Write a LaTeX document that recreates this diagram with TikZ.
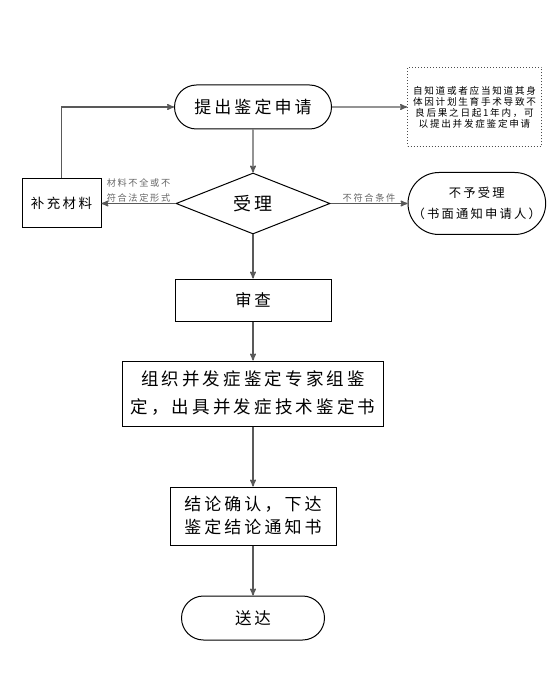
\documentclass[tikz,border=0pt]{standalone}
\usepackage{fontspec}
\setmainfont{Noto Sans CJK SC}[LetterSpace=18]
\usetikzlibrary{shapes,arrows,positioning}
\tikzstyle{terminal}=[rounded rectangle,draw=black,line width=1pt,inner sep=0pt]
\tikzstyle{process}=[rectangle,draw=black,line width=1pt,inner sep=0pt]
\tikzstyle{decision}=[diamond,draw=black,line width=1pt,inner sep=0pt]
\tikzstyle{note}=[rectangle,draw=black!70,dotted,line width=1pt,inner sep=0pt]
\tikzstyle{coef}=[->,>=stealth',line width=1.4pt,draw=black!65]
\tikzstyle{cond}=[inner sep=1pt,align=center,text=black!60,font=\fontsize{9.2}{15}\selectfont]

\begin{document}
\begin{tikzpicture}[x=1pt,y=1pt]
    \useasboundingbox (0,0) rectangle (551,-684);

    % Knoten
    \node[terminal, minimum width=157pt, minimum height=44pt, font=\fontsize{17}{20}\selectfont] (antrag) at (253,-107) {提出鉴定申请};
    \node[note, minimum width=134pt, minimum height=79pt, align=center, font=\fontsize{9.6}{11}\selectfont] (frist) [right=75pt of antrag] {自知道或者应当知道其身\\体因计划生育手术导致不\\良后果之日起1年内，可\\以提出并发症鉴定申请};
    \node[decision, minimum width=154pt, minimum height=61pt, font=\fontsize{18}{20}\selectfont] (annahme) [below=43pt of antrag] {受理};
    \node[process, minimum width=79pt, minimum height=49pt, font=\fontsize{13.5}{16}\selectfont] (ergaenzung) [left=74pt of annahme] {补充材料};
    \node[terminal, minimum width=134pt, minimum height=62pt, align=center, font=\fontsize{12.3}{21}\selectfont] (ablehnung) [right=77pt of annahme] {不予受理\\（书面通知申请人）};
    \node[process, minimum width=156pt, minimum height=42pt, font=\fontsize{16.5}{20}\selectfont] (pruefung) [below=44pt of annahme] {审查};
    \node[process, minimum width=261pt, minimum height=65pt, align=center, font=\fontsize{17.5}{28}\selectfont] (gutachten) [below=39pt of pruefung] {组织并发症鉴定专家组鉴\\定，出具并发症技术鉴定书};
    \node[process, minimum width=166pt, minimum height=58pt, align=center, font=\fontsize{17}{23}\selectfont] (bescheid) [below=60pt of gutachten] {结论确认，下达\\鉴定结论通知书};
    \node[terminal, minimum width=143pt, minimum height=44pt, font=\fontsize{16.5}{20}\selectfont] (zustellung) [below=50pt of bescheid] {送达};

    % Verbindungen
    \draw [coef] (antrag) -- (frist);
    \draw [coef] (antrag) -- (annahme);
    \draw [coef] (annahme) -- node[above, cond] {材料不全或不\\符合法定形式} (ergaenzung);
    \draw [coef] (annahme) -- node[above, cond] {不符合条件} (ablehnung);
    \draw [coef] (ergaenzung.north) |- (antrag.west);
    \draw [coef] (annahme) -- (pruefung);
    \draw [coef] (pruefung) -- (gutachten);
    \draw [coef] (gutachten) -- (bescheid);
    \draw [coef] (bescheid) -- (zustellung);

\end{tikzpicture}
\end{document}
